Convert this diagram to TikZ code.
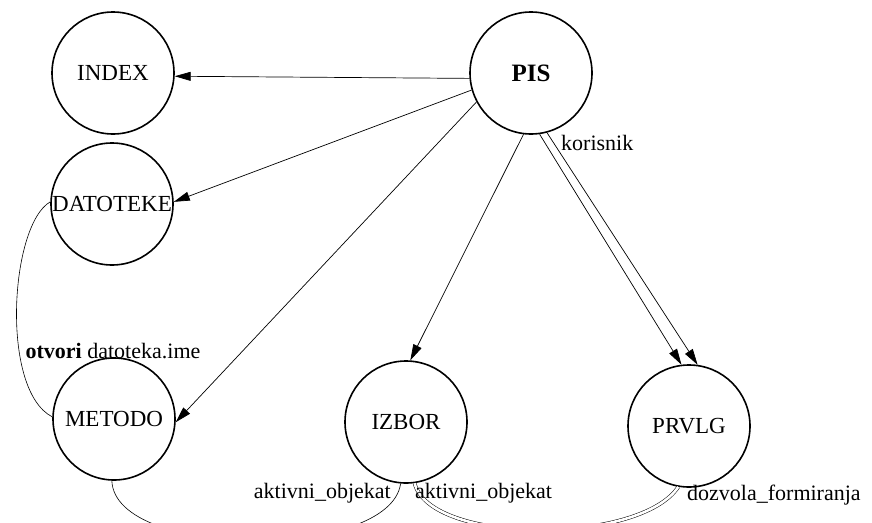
\documentclass[tikz,border=0pt]{standalone}
\usepackage{fontspec}
\setmainfont{Liberation Serif}
\usetikzlibrary{arrows.meta}
\tikzset{>={Triangle[length=16pt,width=9pt]}}

\begin{document}
\begin{tikzpicture}[
    x = 1pt, y = -1pt,
    c0/.style = {draw, circle, line width = 1.6pt, minimum size = 122pt, inner sep = 0pt, font = \fontsize{23}{23}\selectfont},
    d0/.style = {->, line width = 0.7pt},
    d1/.style = {line width = 0.6pt},
    d2/.style = {line width = 0.5pt, double, double distance = 2.6pt},
    lab/.style = {inner sep = 0pt, font = \fontsize{22}{22}\selectfont},
]
\useasboundingbox (0,0) rectangle (872,522);
\clip (0,0) rectangle (872,522);

% processes
\node[c0] (index)    at (113,73)  {INDEX};
\node[c0] (datoteke) at (112,204) {DATOTEKE};
\node[c0, font = \fontsize{25}{25}\selectfont\bfseries] (pis) at (531,73) {PIS};
\node[c0] (metodo)   at (114,419) {METODO};
\node[c0] (izbor)    at (406,422) {IZBOR};
\node[c0] (prvlg)    at (689,426) {PRVLG};

% calls from PIS
\draw[d0] (pis.185) -- (index.-3);
\draw[d0] (pis.196) -- (datoteke.2);
\draw[d0] (pis.208) -- (metodo.-3);
\draw[d0] (pis.-97) -- (izbor.86);
\draw[d0] (pis.-82) -- (prvlg.97);
\draw[d0] (pis.-75) -- (prvlg.82);
\node[lab, anchor = west] (korisnik) at (561,143) {korisnik};

% shared data
\draw[d1] (datoteke.178) .. controls (10,225) and (0,390) .. (metodo.178);
\node[lab] (otvori) at (113,351) {\textbf{otvori} datoteka.ime};

\draw[d1] (metodo.-92) .. controls (115,560) and (390,560) .. (izbor.-95);
\node[lab, anchor = east] (akt1) at (391,493) {aktivni\_objekat};

\draw[d2] (izbor.-82) .. controls (430,545) and (640,545) .. (prvlg.-100);
\node[lab, anchor = west] (akt2) at (415,493) {aktivni\_objekat};
\node[lab, anchor = west] (dozvola) at (687,495) {dozvola\_formiranja};

\end{tikzpicture}
\end{document}
